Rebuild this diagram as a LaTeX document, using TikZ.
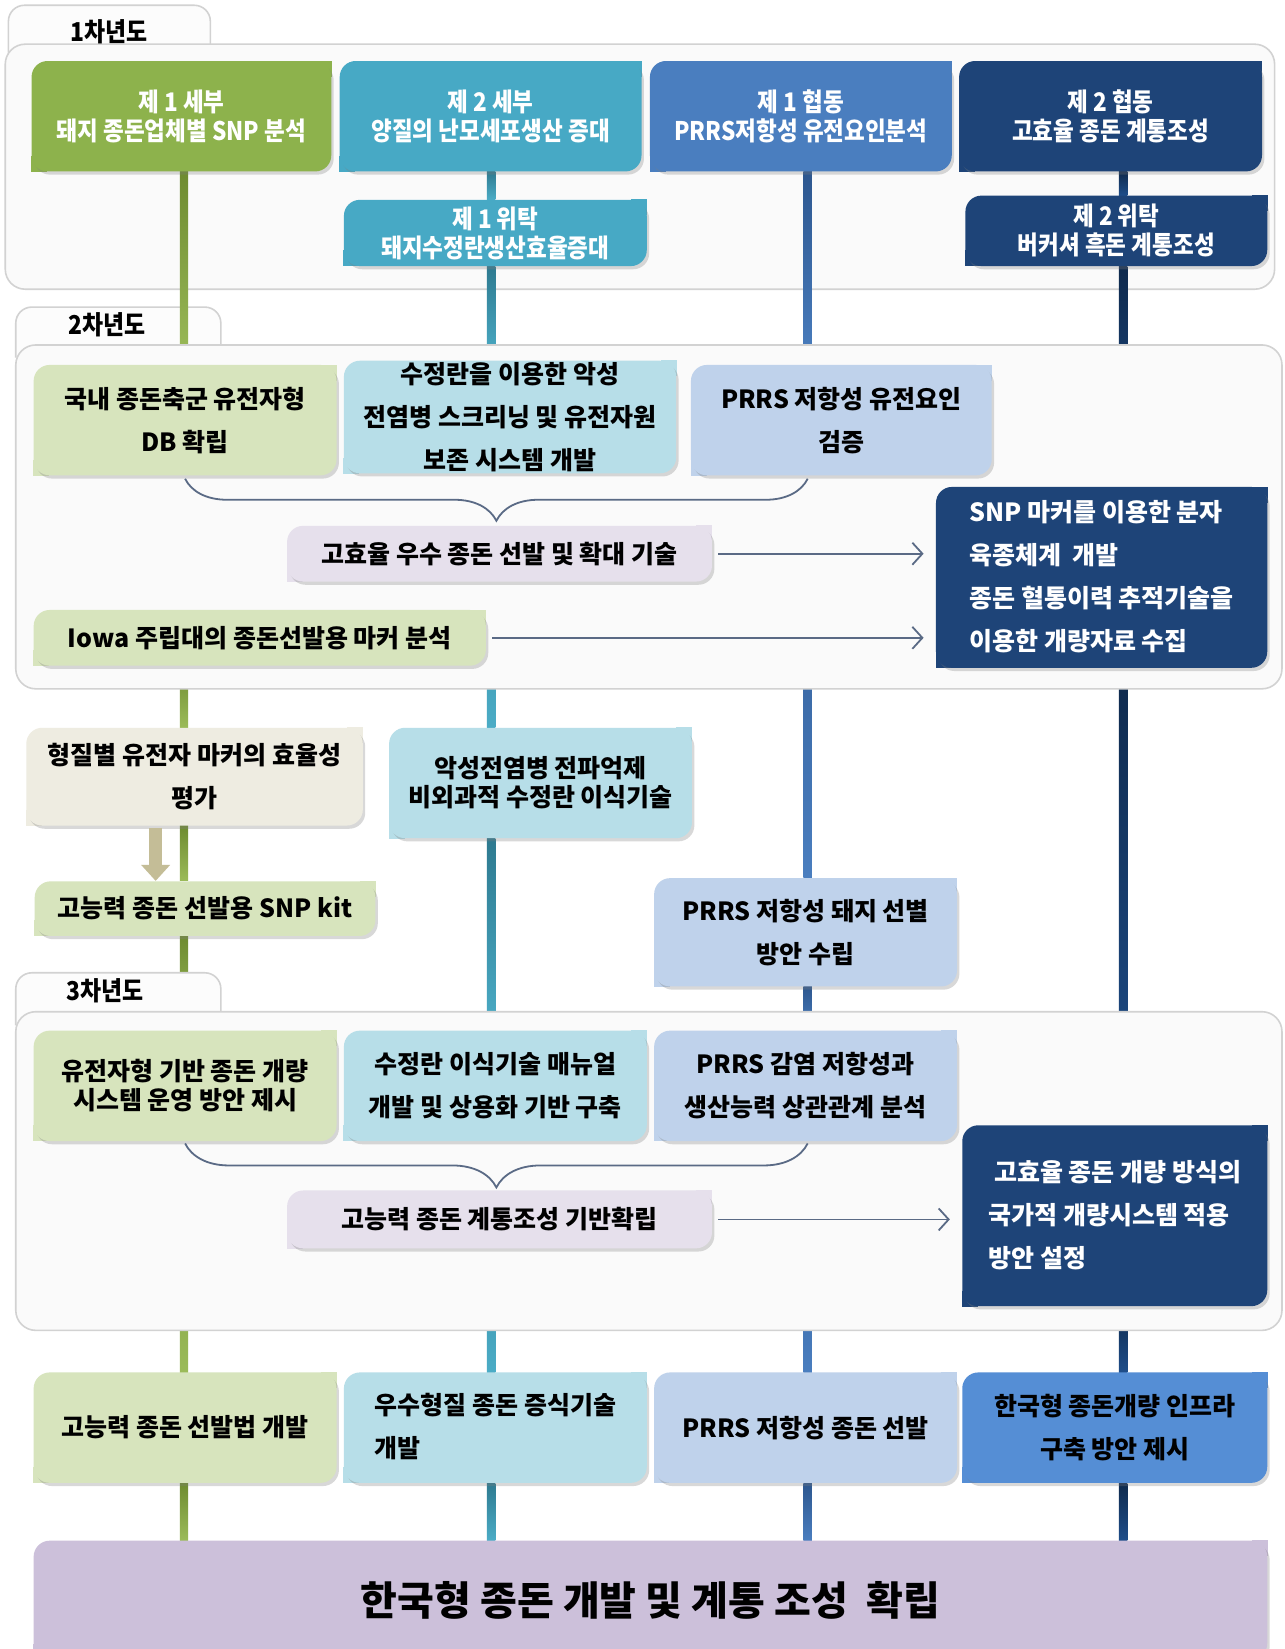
\documentclass[tikz,border=0pt]{standalone}
\usepackage{fontspec}
\setmainfont{Noto Sans CJK KR}
\newfontfamily\condfont{Noto Sans CJK KR}[FakeStretch=0.88]
\usepackage{tikz}
\usetikzlibrary{shadows,arrows.meta,decorations.pathreplacing}

\definecolor{grn}{HTML}{8DB24C}
\definecolor{tea}{HTML}{47A9C5}
\definecolor{blu}{HTML}{4A7EBF}
\definecolor{nav}{HTML}{1E4478}
\definecolor{lgrn}{HTML}{D7E4BD}
\definecolor{ltea}{HTML}{B7DEE8}
\definecolor{lblu}{HTML}{BFD2EB}
\definecolor{lav}{HTML}{E6E0EC}
\definecolor{bei}{HTML}{EEECE1}
\definecolor{khaki}{HTML}{C4BD97}
\definecolor{mblu}{HTML}{558ED5}
\definecolor{purp}{HTML}{CCC0DA}
\definecolor{grntop}{HTML}{6E8B30}
\definecolor{grnbot}{HTML}{9BBB59}
\definecolor{teatop}{HTML}{2E7A90}
\definecolor{teabot}{HTML}{4BACC6}
\definecolor{blutop}{HTML}{2D578F}
\definecolor{blubot}{HTML}{4A7EBF}
\definecolor{navtop}{HTML}{0F2A4D}
\definecolor{navbot}{HTML}{1F4E8A}
\definecolor{arrline}{HTML}{5A6A85}

\newcommand\boxfont{\bfseries\fontsize{12.5}{21.5}\selectfont}
\newcommand\headfont{\condfont\bfseries\fontsize{12.8}{14.5}\selectfont}
\newcommand\tightfont{\bfseries\fontsize{12.5}{14.5}\selectfont}
\newcommand\tabfont{\condfont\bfseries\fontsize{13}{15}\selectfont}

\pgfdeclarelayer{back}
\pgfdeclarelayer{lines}
\pgfdeclarelayer{panels}
\pgfsetlayers{back,lines,panels,main}

\tikzset{
  sz/.style 2 args={minimum width=#1*0.5258pt, minimum height=#2*0.5258pt},
  dbox/.style={inner sep=0pt, fill=#1, rounded corners=8pt, align=center, font=\boxfont,
    drop shadow={opacity=0.3, shadow xshift=1.2pt, shadow yshift=-1.6pt},
    append after command={\pgfextra{
      \fill[#1, sharp corners] (\tikzlastnode.north east) rectangle ++(-8pt,-8pt);
      \fill[#1, sharp corners] (\tikzlastnode.south west) rectangle ++(8pt,8pt);}}},
  hbox/.style={dbox=#1, text=white, font=\headfont},
  panel/.style={fill=gray!4, draw=gray!35, line width=0.8pt, rounded corners=10pt},
  tab/.style={fill=gray!2, draw=gray!35, line width=0.8pt, rounded corners=8pt},
  gcol/.style={top color=grntop, bottom color=grnbot},
  tcol/.style={top color=teatop, bottom color=teabot},
  bcol/.style={top color=blutop, bottom color=blubot},
  ncol/.style={top color=navtop, bottom color=navbot},
  brc/.style={draw=arrline, line width=0.9pt, decorate, decoration={brace, mirror, amplitude=#1}},
  arr/.style={draw=arrline, line width=0.9pt, shorten <=3pt, shorten >=6pt, -{Straight Barb[length=5pt, width=11pt]}},
  blk/.style={draw=khaki, line width=6.5pt, shorten <=1pt, -{Triangle[length=8pt, width=14pt]}}
}

\begin{document}
\begin{tikzpicture}[x=0.5258pt, y=-0.5258pt]
\useasboundingbox (0,0) rectangle (1221,1568);
\coordinate (cg) at (175,0);
\coordinate (ct) at (467,0);
\coordinate (cb) at (768,0);
\coordinate (cn) at (1068,0);
\coordinate (ca) at (148,0);

\begin{pgfonlayer}{back}
  \fill[white] (0,0) rectangle (1221,1568);
  \filldraw[tab] (8,50) -- (8,5) -- (200,5) -- (200,50);
  \filldraw[panel] (5,42) rectangle (1212,275);
  \filldraw[tab] (15,340) -- (15,292) -- (210,292) -- (210,340);
\end{pgfonlayer}
\begin{pgfonlayer}{panels}
  \filldraw[panel] (15,328) rectangle (1219,655);
  \filldraw[tab] (15,975) -- (15,925) -- (210,925) -- (210,975);
  \filldraw[panel] (15,962) rectangle (1219,1265);
\end{pgfonlayer}

\node[font=\tabfont] (y1) at (104,30) {1차년도};
\node[font=\tabfont] (y2) at (102,309) {2차년도};
\node[font=\tabfont] (y3) at (100,942) {3차년도};

\node[hbox=grn, sz={285}{105}] (s1) at (172.5,110.5) {제 1 세부\\돼지 종돈업체별 SNP 분석};
\node[hbox=tea, sz={287}{105}] (s2) at (466.5,110.5) {제 2 세부\\양질의 난모세포생산 증대};
\node[hbox=blu, sz={287}{105}] (h1) at (761.5,110.5) {제 1 협동\\PRRS저항성 유전요인분석};
\node[hbox=nav, sz={288}{105}] (h2) at (1056,110.5) {제 2 협동\\고효율 종돈 계통조성};
\node[hbox=tea, sz={288}{63}] (w1) at (471,221.5) {제 1 위탁\\돼지수정란생산효율증대};
\node[hbox=nav, sz={287}{67}] (w2) at (1061.5,219.5) {제 2 위탁\\버커셔 흑돈 계통조성};

\node[dbox=lgrn, sz={288}{105}] (a1) at (176,399.5) {국내 종돈축군 유전자형\\DB 확립};
\node[dbox=ltea, sz={316}{107}] (a2) at (485,396.5) {수정란을 이용한 악성\\전염병 스크리닝 및 유전자원\\보존 시스템 개발};
\node[dbox=lblu, sz={286}{105}] (a3) at (800,399.5) {PRRS 저항성 유전요인\\검증};
\node[dbox=lav, sz={404}{53}] (t1) at (475,526.5) {고효율 우수 종돈 선발 및 확대 기술};
\node[dbox=lgrn, sz={430}{53}] (io) at (247,606.5) {Iowa 주립대의 종돈선발용 마커 분석};
\node[dbox=nav, sz={315}{172}, text=white] (n1) at (1047.5,549) {\begin{tabular}{@{}l@{}}SNP 마커를 이용한 분자\\육종체계\ \ 개발\\종돈 혈통이력 추적기술을\\이용한 개량자료 수집\end{tabular}};

\node[dbox=bei, sz={320}{93}] (e1) at (185,738.5) {형질별 유전자 마커의 효율성\\평가};
\node[dbox=lgrn, sz={324}{52}] (k1) at (195,864) {고능력 종돈 선발용 SNP kit};
\node[dbox=ltea, font=\tightfont, sz={288}{105}] (c1) at (514,744.5) {악성전염병 전파억제\\비외과적 수정란 이식기술};
\node[dbox=lblu, sz={288}{103}] (p1) at (766,886.5) {PRRS 저항성 돼지 선별\\방안 수립};

\node[dbox=lgrn, font=\tightfont, sz={288}{105}] (b1) at (176,1032.5) {유전자형 기반 종돈 개량\\시스템 운영 방안 제시};
\node[dbox=ltea, sz={288}{105}] (b2) at (471,1032.5) {수정란 이식기술 매뉴얼\\개발 및 상용화 기반 구축};
\node[dbox=lblu, sz={288}{105}] (b3) at (766,1032.5) {PRRS 감염 저항성과\\생산능력 상관관계 분석};
\node[dbox=lav, sz={404}{55}] (t2) at (475,1159.5) {고능력 종돈 계통조성 기반확립};
\node[dbox=nav, sz={290}{172}, text=white] (n2) at (1060,1156) {\begin{tabular}{@{}l@{}}\ 고효율 종돈 개량 방식의\\국가적 개량시스템 적용\\방안 설정\end{tabular}};

\node[dbox=lgrn, sz={288}{105}] (r1) at (176,1357.5) {고능력 종돈 선발법 개발};
\node[dbox=ltea, sz={288}{105}] (r2) at (471,1357.5) {\begin{tabular}{@{}l@{}}우수형질 종돈 증식기술\\개발\end{tabular}};
\node[dbox=lblu, sz={288}{105}] (r3) at (766,1357.5) {PRRS 저항성 종돈 선발};
\node[dbox=mblu, sz={290}{105}] (r4) at (1060,1357.5) {한국형 종돈개량 인프라\\구축 방안 제시};
\node[dbox=purp, font=\bfseries\fontsize{20}{24}\selectfont, sz={1173}{113}] (fin) at (618.5,1521.5) {한국형 종돈 개발 및 계통 조성\ \ 확립};

\begin{pgfonlayer}{lines}
  \shade[gcol] ([xshift=-2.1pt]s1.south -| cg) rectangle ([xshift=2.1pt]a1.north -| cg);
  \shade[gcol] ([xshift=-2.1pt]io.south -| cg) rectangle ([xshift=2.1pt]e1.north -| cg);
  \shade[gcol] ([xshift=-2.1pt]e1.south -| cg) rectangle ([xshift=2.1pt]k1.north -| cg);
  \shade[gcol] ([xshift=-2.1pt]k1.south -| cg) rectangle ([xshift=2.1pt]b1.north -| cg);
  \shade[gcol] ([xshift=-2.1pt]b1.south -| cg) rectangle ([xshift=2.1pt]r1.north -| cg);
  \shade[gcol] ([xshift=-2.1pt]r1.south -| cg) rectangle ([xshift=2.1pt]fin.north -| cg);
  \shade[tcol] ([xshift=-2.1pt]s2.south -| ct) rectangle ([xshift=2.1pt]w1.north -| ct);
  \shade[tcol] ([xshift=-2.1pt]w1.south -| ct) rectangle ([xshift=2.1pt]a2.north -| ct);
  \shade[tcol] ([xshift=-2.1pt]a2.south -| ct) rectangle ([xshift=2.1pt]c1.north -| ct);
  \shade[tcol] ([xshift=-2.1pt]c1.south -| ct) rectangle ([xshift=2.1pt]b2.north -| ct);
  \shade[tcol] ([xshift=-2.1pt]b2.south -| ct) rectangle ([xshift=2.1pt]r2.north -| ct);
  \shade[tcol] ([xshift=-2.1pt]r2.south -| ct) rectangle ([xshift=2.1pt]fin.north -| ct);
  \shade[bcol] ([xshift=-2.1pt]h1.south -| cb) rectangle ([xshift=2.1pt]a3.north -| cb);
  \shade[bcol] ([xshift=-2.1pt]a3.south -| cb) rectangle ([xshift=2.1pt]p1.north -| cb);
  \shade[bcol] ([xshift=-2.1pt]p1.south -| cb) rectangle ([xshift=2.1pt]b3.north -| cb);
  \shade[bcol] ([xshift=-2.1pt]b3.south -| cb) rectangle ([xshift=2.1pt]r3.north -| cb);
  \shade[bcol] ([xshift=-2.1pt]r3.south -| cb) rectangle ([xshift=2.1pt]fin.north -| cb);
  \shade[ncol] ([xshift=-2.1pt]h2.south -| cn) rectangle ([xshift=2.1pt]w2.north -| cn);
  \shade[ncol] ([xshift=-2.1pt]w2.south -| cn) rectangle ([xshift=2.1pt]n1.north -| cn);
  \shade[ncol] ([xshift=-2.1pt]n1.south -| cn) rectangle ([xshift=2.1pt]n2.north -| cn);
  \shade[ncol] ([xshift=-2.1pt]n2.south -| cn) rectangle ([xshift=2.1pt]r4.north -| cn);
  \shade[ncol] ([xshift=-2.1pt]r4.south -| cn) rectangle ([xshift=2.1pt]fin.north -| cn);
\end{pgfonlayer}

\draw[brc=21pt] ([yshift=-1.5pt]a1.south) -- ([yshift=-1.5pt]a1.south -| cb);
\draw[brc=22pt] ([yshift=-1pt]b1.south) -- ([yshift=-1pt]b1.south -| cb);
\draw[arr] (t1.east) -- (t1.east -| n1.west);
\draw[arr] (io.east) -- (io.east -| n1.west);
\draw[arr] (t2.east) -- (t2.east -| n2.west);
\draw[blk] (e1.south -| ca) -- (k1.north -| ca);
\end{tikzpicture}
\end{document}
